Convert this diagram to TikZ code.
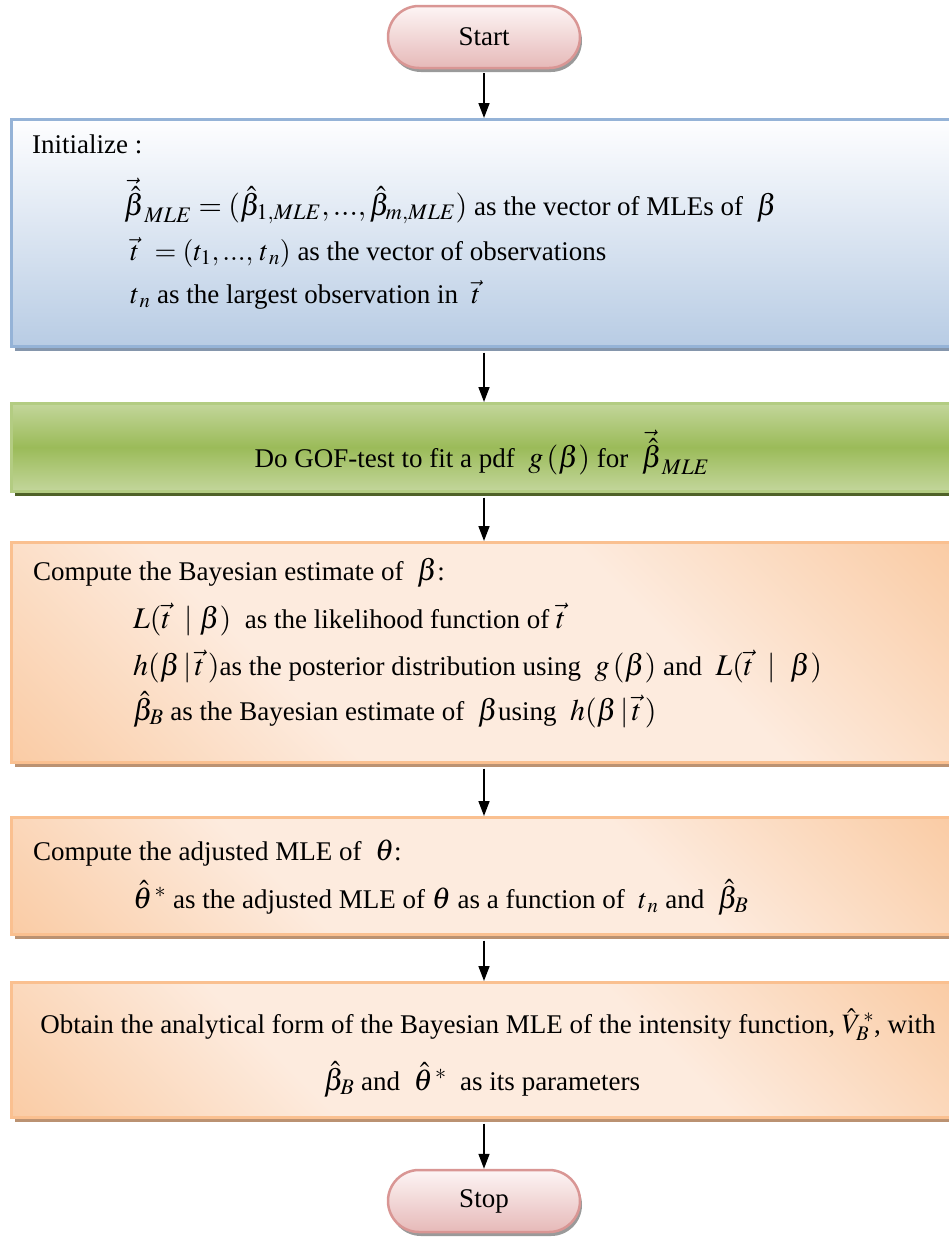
\documentclass[tikz,border=0pt]{standalone}
\usepackage{mathptmx}
\usepackage{fontspec}
\setmainfont{Liberation Serif}
\usetikzlibrary{arrows.meta,shapes.misc,shadows}
\definecolor{pinkB}{HTML}{D99694}
\definecolor{pinkT}{HTML}{FDF5F5}
\definecolor{pinkD}{HTML}{E6B9B8}
\definecolor{blueB}{HTML}{95B3D7}
\definecolor{blueT}{HTML}{FEFEFF}
\definecolor{blueD}{HTML}{B8CCE4}
\definecolor{greenB}{HTML}{B3CC82}
\definecolor{greenL}{HTML}{C3D69B}
\definecolor{greenD}{HTML}{9BBB59}
\definecolor{orangeB}{HTML}{FAC090}
\definecolor{oDark}{HTML}{F8BF8E}
\definecolor{oLight}{HTML}{FDEBDE}
\definecolor{shBlue}{HTML}{8596AC}
\definecolor{shGreen}{HTML}{4F6228}
\definecolor{shOrange}{HTML}{BB9272}
\definecolor{shGray}{HTML}{9A9A9A}
\pgfdeclareverticalshading{orangediag}{100bp}{color(0bp)=(oDark); color(6bp)=(oDark); color(36bp)=(oLight); color(62bp)=(oLight); color(94bp)=(oDark); color(100bp)=(oDark)}
\newcommand{\mth}[1]{{\fontsize{30}{34}\selectfont$#1$}}
\newcommand{\mtt}[1]{{\fontsize{28}{32}\selectfont$#1$}}
\begin{document}
\begin{tikzpicture}[x=1pt,y=-1pt,
 base/.style={font=\fontsize{27}{31}\selectfont},
 txt/.style={base, anchor=base west, inner sep=0pt},
 ctxt/.style={base, anchor=base, inner sep=0pt},
 pill/.style={rounded rectangle, draw=pinkB, line width=2.5pt, top color=pinkT, bottom color=pinkD, minimum width=192pt, minimum height=62pt, inner sep=0pt, base, drop shadow={shadow xshift=2pt, shadow yshift=-4pt, fill=shGray, opacity=1}},
 stepbox/.style={rectangle, anchor=north west, minimum width=948pt, inner sep=0pt, line width=2.5pt},
 bluebox/.style={stepbox, draw=blueB, top color=blueT, bottom color=blueD, drop shadow={shadow xshift=4pt, shadow yshift=-5pt, fill=shBlue, opacity=1}},
 greenbox/.style={stepbox, draw=greenB, top color=greenL, bottom color=greenL, middle color=greenD, drop shadow={shadow xshift=4pt, shadow yshift=-5pt, fill=shGreen, opacity=1}},
 orangebox/.style={stepbox, draw=orangeB, shade, shading=orangediag, shading angle=-45, drop shadow={shadow xshift=4pt, shadow yshift=-5pt, fill=shOrange, opacity=1}},
 arr/.style={-{Triangle[length=15pt,width=11pt]}, line width=1.6pt, black}
]
\useasboundingbox (0,0) rectangle (949,1237);
\clip (0,0) rectangle (949,1237);

% terminals
\node[pill] (start) at (484,37) {Start};
\node[pill] (stop) at (484,1201) {Stop};

% boxes
\node[bluebox, minimum height=227pt] (init) at (10,118) {};
\node[greenbox, minimum height=88pt] (gof) at (10,402) {};
\node[orangebox, minimum height=220pt] (bayes) at (10,541) {};
\node[orangebox, minimum height=117pt] (adj) at (10,816) {};
\node[orangebox, minimum height=135pt] (last) at (10,981) {};

% texts: initialize
\node[txt] (initT) at (32,153) {Initialize :};
\node[txt] (initA) at (124,215) {\mth{\vec{\hat\beta}_{MLE} = (\hat\beta_{1,MLE},...,\hat\beta_{m,MLE})} as the vector of MLEs of \ \mth{\beta}};
\node[txt] (initB) at (130,260) {\mtt{\vec t\;\,=(t_1,...,\,t_{\,n})} as the vector of observations};
\node[txt] (initC) at (130,303) {\mtt{t_{\,n}} as the largest observation in \ \mtt{\vec t}};

% GOF
\node[ctxt] (gofT) at (482,467) {Do GOF-test to fit a pdf \ \mth{g\,(\beta)} for \ \mth{\vec{\hat\beta}_{MLE}}};

% Bayes
\node[txt] (bayT) at (33,580) {Compute the Bayesian estimate of \ \mth{\beta}:};
\node[txt] (bayA) at (133,628) {\mth{L(\vec t\;\mid\beta)} \ as the likelihood function of \mth{\vec t}};
\node[txt] (bayB) at (133,675) {\mth{h(\beta\,|\,\vec t\,)}as the posterior distribution using \ \mth{g\,(\beta)} and \ \mth{L(\vec t\ \mid\ \beta)}};
\node[txt] (bayC) at (133,720) {\mth{\hat\beta_B} as the Bayesian estimate of \ \mth{\beta}using \ \mth{h(\beta\,|\,\vec t\,)}};

% adjusted
\node[txt] (adjT) at (33,860) {Compute the adjusted MLE of \ \mth{\theta}:};
\node[txt] (adjA) at (133,908) {\mth{\hat\theta^{\,*}} as the adjusted MLE of \mth{\theta} as a function of \ \mtt{t_{\,n}} and \ \mth{\hat\beta_B}};

% last
\node[ctxt] (lastA) at (488,1033) {Obtain the analytical form of the Bayesian MLE of the intensity function, \mtt{\hat V_B^{\,*}}, with};
\node[ctxt] (lastB) at (482,1090) {\mth{\hat\beta_B} and \ \mth{\hat\theta^{\,*}} \ as its parameters};

% connectors
\draw[arr] ([yshift=-4pt]start.south) -- (start.south |- init.north);
\draw[arr] ([yshift=-5pt]start.south |- init.south) -- (start.south |- gof.north);
\draw[arr] ([yshift=-5pt]start.south |- gof.south) -- (start.south |- bayes.north);
\draw[arr] ([yshift=-5pt]start.south |- bayes.south) -- (start.south |- adj.north);
\draw[arr] ([yshift=-5pt]start.south |- adj.south) -- (start.south |- last.north);
\draw[arr] ([yshift=-5pt]start.south |- last.south) -- (stop.north);
\end{tikzpicture}
\end{document}
